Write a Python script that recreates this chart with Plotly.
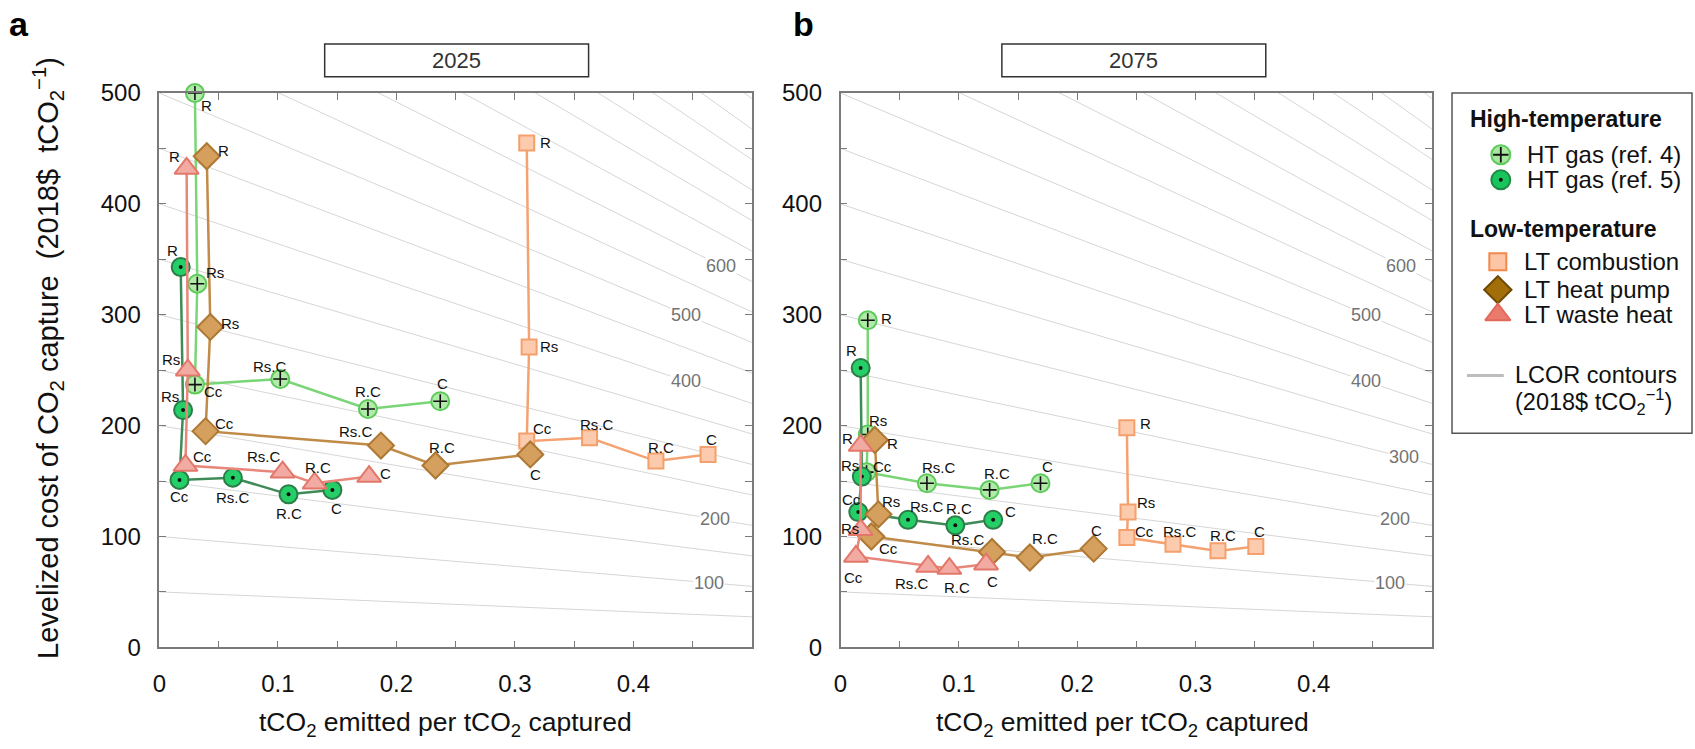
import plotly.graph_objects as go

W, H = 1695, 749
FONT = "Liberation Sans, Arial, Helvetica, sans-serif"

# ---------------- data ----------------
point_labels = ["R", "Rs", "Cc", "Rs.C", "R.C", "C"]
series_keys = ["ht4", "ht5", "ltc", "lthp", "ltw"]
series_names = ["HT gas (ref. 4)", "HT gas (ref. 5)", "LT combustion", "LT heat pump", "LT waste heat"]

# Panel a (2025)
a_ht4_x = [0.030, 0.032, 0.030, 0.102, 0.176, 0.237]
a_ht4_y = [500, 328, 237, 242, 215, 222]
a_ht5_x = [0.018, 0.020, 0.017, 0.062, 0.109, 0.146]
a_ht5_y = [343, 214, 151, 153, 138, 142]
a_ltc_x = [0.310, 0.312, 0.310, 0.363, 0.419, 0.463]
a_ltc_y = [455, 271, 186, 189, 168, 174]
a_lthp_x = [0.040, 0.043, 0.039, 0.187, 0.233, 0.313]
a_lthp_y = [443, 289, 195, 182, 164, 174]
a_ltw_x = [0.023, 0.024, 0.022, 0.104, 0.131, 0.177]
a_ltw_y = [432, 250, 164, 158, 148, 154]

# Panel b (2075)
b_ht4_x = [0.023, 0.023, 0.022, 0.073, 0.126, 0.169]
b_ht4_y = [295, 192, 158, 148, 142, 148]
b_ht5_x = [0.017, 0.018, 0.015, 0.057, 0.097, 0.129]
b_ht5_y = [252, 154, 122, 115, 110, 115]
b_ltc_x = [0.242, 0.243, 0.242, 0.281, 0.319, 0.351]
b_ltc_y = [198, 122, 99, 93, 87, 91]
b_lthp_x = [0.029, 0.032, 0.026, 0.128, 0.160, 0.214]
b_lthp_y = [187, 120, 100, 86, 81, 89]
b_ltw_x = [0.017, 0.017, 0.013, 0.074, 0.092, 0.123]
b_ltw_y = [182, 106, 82, 73, 71, 75]

# LCOR contour levels and the slope factor:
# cost of capture along a contour = level * (1 - lcor_slope * x)
lcor_levels = list(range(50, 951, 50))
lcor_slope = 0.9
lcor_label_levels = [100, 200, 300, 400, 500, 600]
lcor_label_x = [0.464, 0.469, 0.476, 0.444, 0.444, 0.474]

x_tick_vals = [0, 0.1, 0.2, 0.3, 0.4]
x_tick_text = ["0", "0.1", "0.2", "0.3", "0.4"]
x_minor_vals = [0.05, 0.15, 0.25, 0.35, 0.45]
y_tick_vals = [0, 100, 200, 300, 400, 500]
y_tick_text = ["0", "100", "200", "300", "400", "500"]
y_minor_vals = [50, 150, 250, 350, 450]
X_MAX = 0.5

panels = {
    "a": dict(year="2025", xref="x", yref="y",
              data={"ht4": (a_ht4_x, a_ht4_y), "ht5": (a_ht5_x, a_ht5_y),
                    "ltc": (a_ltc_x, a_ltc_y), "lthp": (a_lthp_x, a_lthp_y),
                    "ltw": (a_ltw_x, a_ltw_y)},
              skip_labels=[300]),
    "b": dict(year="2075", xref="x2", yref="y2",
              data={"ht4": (b_ht4_x, b_ht4_y), "ht5": (b_ht5_x, b_ht5_y),
                    "ltc": (b_ltc_x, b_ltc_y), "lthp": (b_lthp_x, b_lthp_y),
                    "ltw": (b_ltw_x, b_ltw_y)},
              skip_labels=[]),
}

# ---------------- styles ----------------
styles = {
    "ht4": dict(line="#7ad577", fill="#b2eaa9", edge="#5ccb5a", symbol="circle", size=18),
    "ht5": dict(line="#3f8b57", fill="#25cf68", edge="#2c7d48", symbol="circle", size=18),
    "ltc": dict(line="#f5a273", fill="#fccaad", edge="#f4a06c", symbol="square", size=15),
    "lthp": dict(line="#c08a47", fill="#d59f5d", edge="#ad7833", symbol="diamond", size=20),
    "ltw": dict(line="#e8867a", fill="#f2aba3", edge="#e2776a", symbol="triangle-up", size=21),
}
legend_styles = {
    "ht4": dict(fill="#a9e7a0", edge="#5ccb5a", symbol="circle", size=19),
    "ht5": dict(fill="#17c55c", edge="#1f8a45", symbol="circle", size=19),
    "ltc": dict(fill="#fcc6a6", edge="#f2884a", symbol="square", size=17),
    "lthp": dict(fill="#a26e0a", edge="#6e4a00", symbol="diamond", size=21),
    "ltw": dict(fill="#ea7a6c", edge="#e0695b", symbol="triangle-up", size=22),
}

# label offsets (dx right, dy down, px) relative to marker
offsets = {
    "a": {
        "ht4": [(12, 12), (18, -11), (19, 7), (-10, -13), (0, -17), (2, -18)],
        "ht5": [(-8, -17), (-13, -14), (0, 17), (0, 20), (0, 19), (4, 19)],
        "ltc": [(19, 0), (20, 0), (16, -13), (7, -13), (5, -14), (3, -15)],
        "lthp": [(17, -6), (20, -3), (19, -8), (-25, -14), (7, -18), (5, 20)],
        "ltw": [(-12, -12), (-17, -11), (17, -9), (-19, -16), (3, -16), (16, -3)],
    },
    "b": {
        "ht4": [(19, -2), (10, -14), (16, -6), (12, -16), (7, -16), (7, -17)],
        "ht5": [(-9, -17), (-12, -11), (-7, -13), (19, -13), (4, -17), (17, -8)],
        "ltc": [(19, -4), (18, -10), (18, -6), (7, -13), (5, -15), (4, -15)],
        "lthp": [(18, 3), (13, -13), (17, 12), (-24, -12), (15, -19), (3, -18)],
        "ltw": [(-13, -7), (-11, -1), (-2, 21), (-16, 17), (8, 19), (6, 17)],
    },
}

fig = go.Figure()
annotations = []
shapes = []

for pk, p in panels.items():
    xa, ya = p["xref"], p["yref"]
    # contour lines
    for L in lcor_levels:
        fig.add_trace(go.Scatter(x=[0, X_MAX], y=[L, L * (1 - lcor_slope * X_MAX)], mode="lines",
                                 line=dict(color="#d6d6d6", width=1),
                                 xaxis=xa, yaxis=ya, showlegend=False, hoverinfo="skip"))
    for L, lx in zip(lcor_label_levels, lcor_label_x):
        if L in p["skip_labels"]:
            continue
        annotations.append(dict(x=lx, y=L * (1 - lcor_slope * lx), xref=xa, yref=ya, text=str(L),
                                showarrow=False, bgcolor="white", borderpad=0,
                                font=dict(size=18, color="#737373", family=FONT)))
    # series
    for key, name in zip(series_keys, series_names):
        xs, ys = p["data"][key]
        st = styles[key]
        fig.add_trace(go.Scatter(
            x=xs, y=ys, mode="lines+markers", name=name,
            line=dict(color=st["line"], width=2.5),
            marker=dict(symbol=st["symbol"], size=st["size"], color=st["fill"],
                        line=dict(color=st["edge"], width=2)),
            cliponaxis=False, xaxis=xa, yaxis=ya, showlegend=False))
        if key == "ht4":
            fig.add_trace(go.Scatter(x=xs, y=ys, mode="markers",
                                     marker=dict(symbol="cross-thin", size=10,
                                                 line=dict(color="#111", width=1.6)),
                                     cliponaxis=False, xaxis=xa, yaxis=ya, showlegend=False))
        if key == "ht5":
            fig.add_trace(go.Scatter(x=xs, y=ys, mode="markers",
                                     marker=dict(symbol="circle", size=4, color="#111"),
                                     cliponaxis=False, xaxis=xa, yaxis=ya, showlegend=False))
        for lab, xv, yv, (dx, dy) in zip(point_labels, xs, ys, offsets[pk][key]):
            annotations.append(dict(x=xv, y=yv, xref=xa, yref=ya, text=lab, showarrow=False,
                                    xshift=dx, yshift=-dy,
                                    font=dict(size=15, color="#111", family=FONT)))

# ---------------- legend (drawn on a hidden axis in pixel units) ----------------
leg_rows = {"ht4": 146, "ht5": 172, "ltc": 257, "lthp": 286, "ltw": 312}
for key, name in zip(series_keys, series_names):
    ls = legend_styles[key]
    mx = 1500 if key.startswith("ht") else 1497
    fig.add_trace(go.Scatter(x=[mx], y=[leg_rows[key]], mode="markers",
                             marker=dict(symbol=ls["symbol"], size=ls["size"], color=ls["fill"],
                                         line=dict(color=ls["edge"], width=2)),
                             xaxis="x3", yaxis="y3", showlegend=False, cliponaxis=False))
    if key == "ht4":
        fig.add_trace(go.Scatter(x=[mx], y=[leg_rows[key]], mode="markers",
                                 marker=dict(symbol="cross-thin", size=11,
                                             line=dict(color="#111", width=1.8)),
                                 xaxis="x3", yaxis="y3", showlegend=False, cliponaxis=False))
    if key == "ht5":
        fig.add_trace(go.Scatter(x=[mx], y=[leg_rows[key]], mode="markers",
                                 marker=dict(symbol="circle", size=4, color="#111"),
                                 xaxis="x3", yaxis="y3", showlegend=False, cliponaxis=False))
    annotations.append(dict(x=1524 if key.startswith("ht") else 1521, y=leg_rows[key],
                            xref="x3", yref="y3", text=name, showarrow=False,
                            xanchor="left", yanchor="middle",
                            font=dict(size=24, color="#111", family=FONT)))
fig.add_trace(go.Scatter(x=[1466, 1503], y=[375, 375], mode="lines",
                         line=dict(color="#bdbdbd", width=3),
                         xaxis="x3", yaxis="y3", showlegend=False))
for txt, lx, ly, sz in [("<b>High-temperature</b>", 1467, 109, 23),
                        ("<b>Low-temperature</b>", 1467, 223, 23),
                        ("LCOR contours", 1512, 374, 23.5),
                        ("(2018$ tCO<sub>2</sub><sup>\u22121</sup>)", 1512, 402, 23.5)]:
    annotations.append(dict(x=lx, y=ly, xref="x3", yref="y3", text=txt, showarrow=False,
                            xanchor="left", yanchor="middle",
                            font=dict(size=sz, color="#111", family=FONT)))
shapes.append(dict(type="rect", xref="x3", yref="y3", x0=1451, x1=1692, y0=82, y1=435,
                   line=dict(color="#555", width=1.5), fillcolor="rgba(0,0,0,0)"))

# ---------------- panel titles, letters, axis titles ----------------
for (x0, x1), year in [((319, 584), "2025"), ((999, 1264), "2075")]:
    shapes.append(dict(type="rect", xref="paper", yref="paper",
                       x0=x0 / W, x1=x1 / W, y0=1 - 65 / H, y1=1 - 31 / H,
                       line=dict(color="#333", width=1.5), fillcolor="white"))
    annotations.append(dict(x=(x0 + x1) / 2 / W, y=1 - 48 / H, xref="paper", yref="paper",
                            text=year, showarrow=False, xanchor="center", yanchor="middle",
                            font=dict(size=22, color="#333", family=FONT)))
for letter, lx in [("a", 12), ("b", 800)]:
    annotations.append(dict(x=lx / W, y=1 - 10 / H, xref="paper", yref="paper",
                            text=f"<b>{letter}</b>", showarrow=False,
                            xanchor="center", yanchor="middle",
                            font=dict(size=34, color="#000", family=FONT)))
for cx in [440, 1120]:
    annotations.append(dict(x=cx / W, y=1 - 737 / H, xref="paper", yref="paper",
                            text="tCO<sub>2</sub> emitted per tCO<sub>2</sub> captured",
                            showarrow=False, xanchor="center", yanchor="middle",
                            font=dict(size=26.5, color="#111", family=FONT)))
annotations.append(dict(x=41 / W, y=1 - 357 / H, xref="paper", yref="paper", textangle=-90,
                        text="Levelized cost of CO<sub>2</sub> capture\u00a0\u00a0(2018$\u00a0\u00a0tCO<sub>2</sub><sup>\u22121</sup>)",
                        showarrow=False, xanchor="center", yanchor="middle",
                        font=dict(size=29, color="#111", family=FONT)))

axis_common = dict(showline=True, linecolor="#7a7a7a", linewidth=1.5, mirror="ticks",
                   ticks="inside", ticklen=7, tickcolor="#7a7a7a", tickwidth=1.2,
                   showgrid=False, zeroline=False,
                   tickfont=dict(size=24, color="#111", family=FONT))
xaxis_common = dict(axis_common, range=[0, X_MAX], tickmode="array",
                    tickvals=x_tick_vals, ticktext=x_tick_text, ticklabelstandoff=14,
                    minor=dict(tickmode="array", tickvals=x_minor_vals, ticks="inside",
                               ticklen=7, tickcolor="#7a7a7a", tickwidth=1.2, showgrid=False))
yaxis_common = dict(axis_common, range=[0, 500], tickmode="array",
                    tickvals=y_tick_vals, ticktext=y_tick_text, ticklabelstandoff=12,
                    minor=dict(tickmode="array", tickvals=y_minor_vals, ticks="inside",
                               ticklen=7, tickcolor="#7a7a7a", tickwidth=1.2, showgrid=False))
ydom = [1 - 657 / H, 1 - 82 / H]

fig.update_layout(
    width=W, height=H, margin=dict(l=0, r=0, t=0, b=0),
    paper_bgcolor="white", plot_bgcolor="white",
    font=dict(family=FONT),
    showlegend=False,
    xaxis=dict(xaxis_common, domain=[153 / W, 748 / W], anchor="y"),
    yaxis=dict(yaxis_common, domain=ydom, anchor="x"),
    xaxis2=dict(xaxis_common, domain=[837 / W, 1431 / W], anchor="y2"),
    yaxis2=dict(yaxis_common, domain=ydom, anchor="x2"),
    xaxis3=dict(domain=[1450 / W, 1693 / W], range=[1450, 1693], visible=False, anchor="y3"),
    yaxis3=dict(domain=[1 - 436 / H, 1 - 81 / H], range=[436, 81], visible=False, anchor="x3"),
    annotations=annotations,
    shapes=shapes,
)

fig.write_html("out.html")
